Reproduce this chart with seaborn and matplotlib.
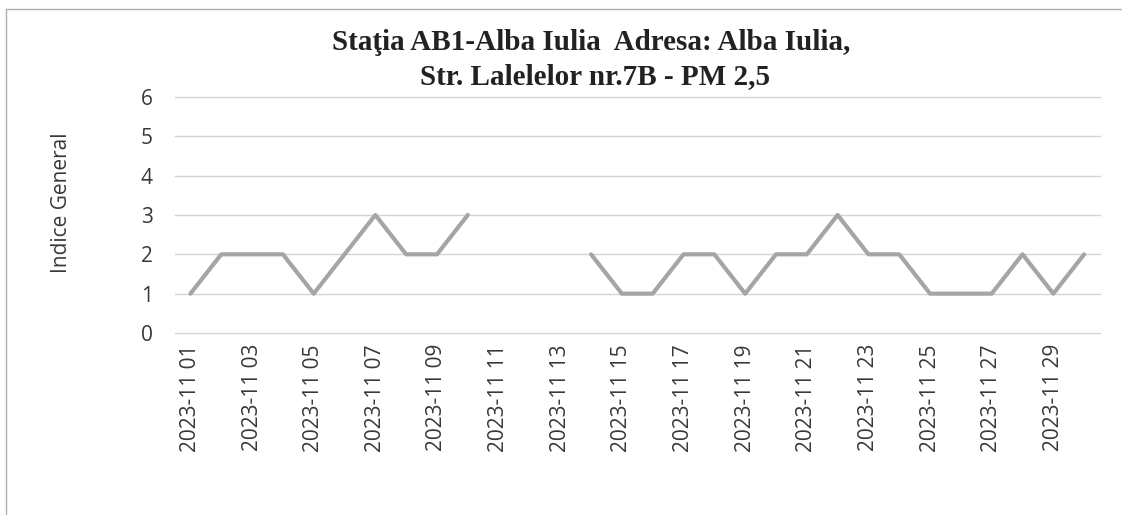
import numpy as np
import pandas as pd
import seaborn as sns
import matplotlib.pyplot as plt
from matplotlib.lines import Line2D

# %% data
days = list(range(1, 31))
dates = [f"2023-11 {d:02d}" for d in days]
indice = [1, 2, 2, 2, 1, 2, 3, 2, 2, 3,
          np.nan, np.nan, np.nan,
          2, 1, 1, 2, 2, 1, 2, 2, 3, 2, 2, 1, 1, 1, 2, 1, 2]
yticks = [0, 1, 2, 3, 4, 5, 6]
title_1 = "Staţia AB1-Alba Iulia  Adresa: Alba Iulia,"
title_2 = "Str. Lalelelor nr.7B - PM 2,5"

df = pd.DataFrame({"pos": range(len(days)), "data": dates, "indice": indice})
# split into segments so the missing days leave a gap
df["segment"] = df["indice"].isna().cumsum()
df = df.dropna(subset=["indice"])

# %%
sns.set_theme(style="white")
plt.rcParams["font.family"] = ["Open Sans", "DejaVu Sans"]

fig = plt.figure(figsize=(11.22, 5.15), dpi=100)
ax = fig.add_axes([0.156, 0.3534, 0.824, 0.4583])

sns.lineplot(
    data=df,
    x="pos",
    y="indice",
    units="segment",
    estimator=None,
    color="#a5a5a5",
    linewidth=3,
    ax=ax,
)

ax.set_xlim(-0.5, len(days) - 0.5)
ax.set_ylim(0, 6)
ax.set_yticks(yticks)
ax.set_xticks(range(0, len(days), 2))
ax.set_xticklabels(dates[::2], rotation=90)
ax.yaxis.grid(True, color="#d4d4d4", linewidth=1)
ax.xaxis.grid(False)
ax.set_axisbelow(True)
for gl in ax.get_ygridlines():
    gl.set_clip_on(False)
for s in ax.spines.values():
    s.set_visible(False)
ax.tick_params(axis="both", length=0, labelsize=15, labelcolor="#383838")
ax.tick_params(axis="y", pad=16)
ax.tick_params(axis="x", pad=8)
ax.set_xlabel("")
ax.set_ylabel("Indice General", fontsize=15, color="#383838")
ax.yaxis.set_label_coords(-0.111, 0.55)

fig.text(0.527, 0.917, title_1, ha="center", va="center", fontsize=21,
         fontweight="bold", family="Liberation Serif", color="#222222")
fig.text(0.530, 0.852, title_2, ha="center", va="center", fontsize=21,
         fontweight="bold", family="Liberation Serif", color="#222222")

# frame of the chart area (left and top edges)
fig.add_artist(Line2D([0.0055, 0.0055], [0, 0.983], color="#b0b0b0", linewidth=1))
fig.add_artist(Line2D([0.0055, 1], [0.983, 0.983], color="#b0b0b0", linewidth=1))

plt.savefig("out.png", dpi=100)
